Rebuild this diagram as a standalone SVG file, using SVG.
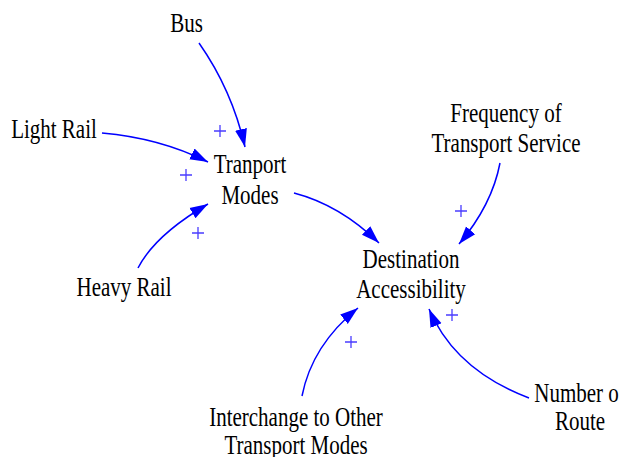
<svg xmlns="http://www.w3.org/2000/svg" width="634" height="457" viewBox="0 0 634 457">
<style>
.lbl{font-family:"Liberation Serif","Times New Roman",serif;font-size:28px;fill:#000;text-anchor:middle}
.link{fill:none;stroke:#0000ff;stroke-width:1.5;marker-end:url(#ah)}
.pol{stroke:#4a3cff;stroke-width:1.3;fill:none}
</style>
<defs>
<marker id="ah" markerUnits="userSpaceOnUse" markerWidth="20" markerHeight="14" refX="18" refY="7" orient="auto">
<path d="M0,1 L18,7 L0,13 Z" fill="#0000ff"/>
</marker>
<path id="plus" d="M-6,0 H6 M0,-6 V6"/>
<clipPath id="clipR"><rect x="0" y="0" width="619" height="457"/></clipPath>
</defs>
<g id="connectors">
<path class="link" d="M199,43 Q232,90 245,147"/>
<path class="link" d="M102,133 Q160,138 208,162"/>
<path class="link" d="M138,268 Q155,235 208,204"/>
<path class="link" d="M294,193 Q340,205 379,243"/>
<path class="link" d="M500,163 Q492,205 459,244"/>
<path class="link" d="M302,396 Q312,345 358,308"/>
<path class="link" d="M529,398 Q455,370 429,309"/>
<g class="pol">
<use href="#plus" x="220" y="131"/>
<use href="#plus" x="186" y="175"/>
<use href="#plus" x="198" y="233"/>
<use href="#plus" x="461" y="211"/>
<use href="#plus" x="351" y="342"/>
<use href="#plus" x="452" y="315"/>
</g>
</g>
<g id="bus"><text class="lbl" transform="translate(186.5,32) scale(0.75,1)">Bus</text></g>
<g id="light-rail"><text class="lbl" transform="translate(54,138) scale(0.75,1)">Light Rail</text></g>
<g id="tranport-modes"><text class="lbl" transform="translate(250,173) scale(0.75,1)"><tspan x="0" y="0">Tranport</tspan><tspan x="0" y="31">Modes</tspan></text></g>
<g id="heavy-rail"><text class="lbl" transform="translate(124,296) scale(0.75,1)">Heavy Rail</text></g>
<g id="frequency"><text class="lbl" transform="translate(506,122) scale(0.75,1)"><tspan x="0" y="0">Frequency of</tspan><tspan x="0" y="30">Transport Service</tspan></text></g>
<g id="destination"><text class="lbl" transform="translate(411,268) scale(0.75,1)"><tspan x="0" y="0">Destination</tspan><tspan x="0" y="30">Accessibility</tspan></text></g>
<g id="interchange"><text class="lbl" transform="translate(296,426) scale(0.75,1)"><tspan x="0" y="0">Interchange to Other</tspan><tspan x="0" y="28">Transport Modes</tspan></text></g>
<g id="number-route" clip-path="url(#clipR)"><text class="lbl" transform="translate(580,402) scale(0.75,1)"><tspan x="0" y="0">Number of</tspan><tspan x="0" y="28">Route</tspan></text></g>
</svg>
